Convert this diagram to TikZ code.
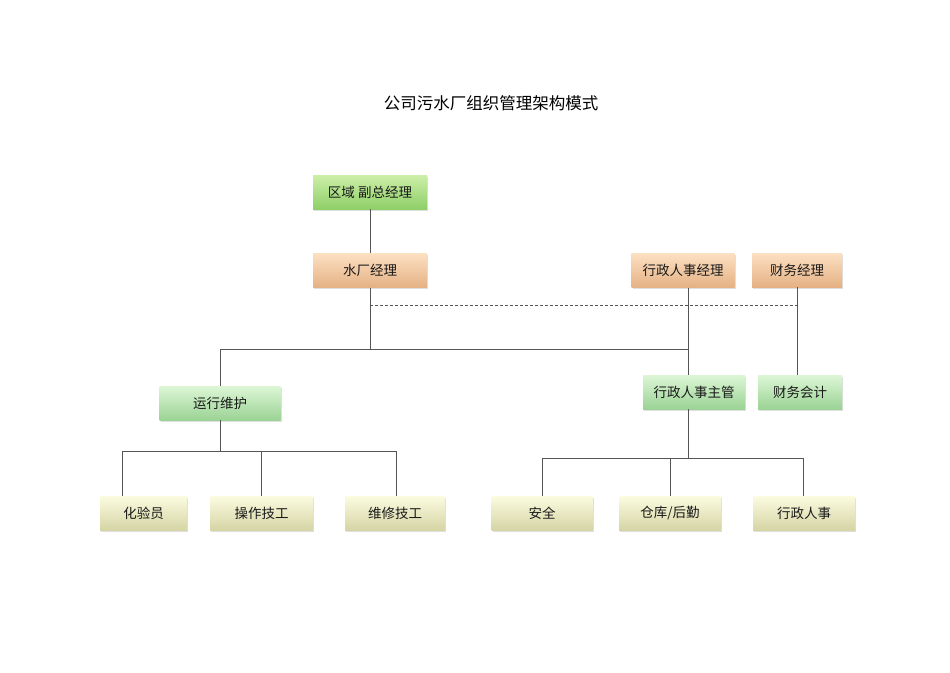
\documentclass[tikz,border=0pt]{standalone}
\usepackage{fontspec}
\setmainfont{Noto Sans CJK SC}
\usetikzlibrary{shadows}
\definecolor{grnTop}{HTML}{CDEFA8}
\definecolor{grnBot}{HTML}{8ECF68}
\definecolor{orgTop}{HTML}{FCE0C2}
\definecolor{orgBot}{HTML}{E5B184}
\definecolor{lgnTop}{HTML}{DDF6D6}
\definecolor{lgnBot}{HTML}{9BD395}
\definecolor{ylwTop}{HTML}{FBFBE0}
\definecolor{ylwBot}{HTML}{D5D4A4}
\definecolor{lineC}{HTML}{555555}

\begin{document}
\begin{tikzpicture}[x=1pt,y=-1pt,
  box/.style={minimum height=34pt,inner sep=0pt,font=\fontsize{13.5}{15}\selectfont,text=black!90,
    drop shadow={opacity=0.25,shadow xshift=1pt,shadow yshift=-1.5pt}},
  head/.style={box,top color=grnTop,bottom color=grnBot},
  mgr/.style={box,top color=orgTop,bottom color=orgBot},
  lead/.style={box,top color=lgnTop,bottom color=lgnBot},
  staff/.style={box,top color=ylwTop,bottom color=ylwBot},
  conn/.style={draw=lineC,line width=0.8pt}]
  \useasboundingbox[fill=white] (0,0) rectangle (950,672);
  \node[font=\fontsize{16.5}{18}\selectfont] (title) at (491,103){公司污水厂组织管理架构模式};
  % managers
  \node[head,minimum width=114pt] (vp) at (370,192){区域 副总经理};
  \node[mgr,minimum width=114pt] (plant) at (370,270.5){水厂经理};
  \node[mgr,minimum width=103pt] (hrmgr) at (683,270.5){行政人事经理};
  \node[mgr,minimum width=90pt] (fin) at (797,270){财务经理};
  % leads
  \node[lead,minimum width=121pt] (ops) at (220,403){运行维护};
  \node[lead,minimum width=102pt] (hrsup) at (694,392){行政人事主管};
  \node[lead,minimum width=84pt] (acct) at (800,392){财务会计};
  % staff
  \node[staff,minimum width=87pt] (lab) at (143.5,513.5){化验员};
  \node[staff,minimum width=103pt] (tech) at (261.5,513.5){操作技工};
  \node[staff,minimum width=100pt] (maint) at (395,513.5){维修技工};
  \node[staff,minimum width=101pt] (safe) at (542,513.5){安全};
  \node[staff,minimum width=102pt] (store) at (670,513.5){仓库/后勤};
  \node[staff,minimum width=102pt] (admin) at (804,513.5){行政人事};
  % bus lines
  \coordinate (dash) at (0,305);
  \coordinate (bus) at (0,349);
  \coordinate (hrx) at (688,0);
  \coordinate (busL) at (0,451);
  \coordinate (busR) at (0,458);
  \draw[conn] (vp) -- (plant);
  \draw[conn] (plant.south) -- (plant.south |- bus);
  \draw[conn] (ops.north) |- (hrx |- bus);
  \draw[conn] (hrmgr.south -| hrx) -- (hrsup.north -| hrx);
  \draw[conn,dashed,dash pattern=on 3pt off 2pt] (plant.south |- dash) -- (fin.south |- dash);
  \draw[conn] (fin.south) -- (fin.south |- acct.north);
  \draw[conn] (ops.south) -- (ops.south |- busL);
  \draw[conn] ([xshift=-21.5pt]lab.north) |- ([xshift=1pt]maint.north |- busL) -- ([xshift=1pt]maint.north);
  \draw[conn] (tech.north) -- (tech.north |- busL);
  \draw[conn] (hrsup.south -| hrx) -- (hrx |- busR);
  \draw[conn] (safe.north) |- ([xshift=-1pt]admin.north |- busR) -- ([xshift=-1pt]admin.north);
  \draw[conn] (store.north) -- (store.north |- busR);
\end{tikzpicture}
\end{document}
